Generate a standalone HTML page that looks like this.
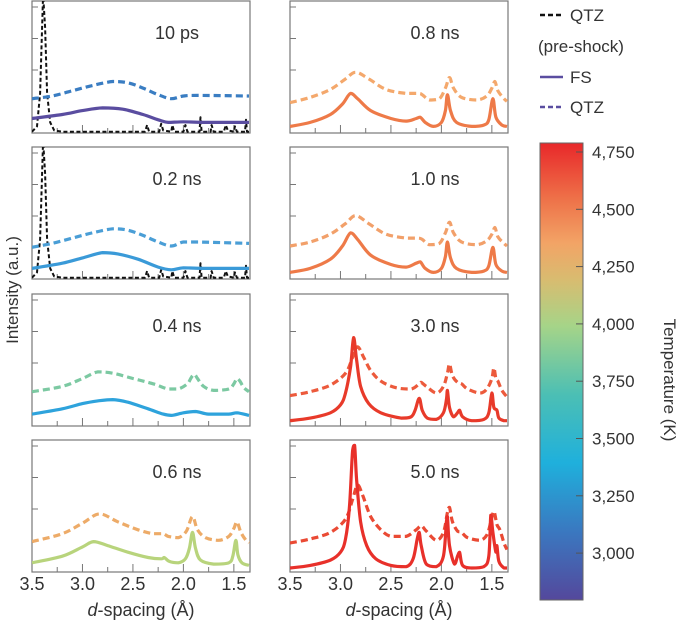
<!DOCTYPE html>
<html><head><meta charset="utf-8">
<style>
html,body{margin:0;padding:0;background:#fff;}
svg{display:block;font-family:"Liberation Sans","DejaVu Sans",sans-serif;}
</style></head>
<body>
<svg id="chart" width="685" height="630" viewBox="0 0 685 630" xmlns="http://www.w3.org/2000/svg">
<defs>
<linearGradient id="cmap" x1="0" y1="1" x2="0" y2="0">
<stop offset="0" stop-color="#54489c"/>
<stop offset="0.15" stop-color="#3a78c0"/>
<stop offset="0.3" stop-color="#1fb0dc"/>
<stop offset="0.45" stop-color="#4cbfb4"/>
<stop offset="0.6" stop-color="#a6d488"/>
<stop offset="0.7" stop-color="#d8bc70"/>
<stop offset="0.78" stop-color="#f2a466"/>
<stop offset="0.88" stop-color="#ee7048"/>
<stop offset="1" stop-color="#e8282a"/>
</linearGradient>
</defs>
<g id="panels"></g>
<g>
<line x1="540" y1="15" x2="563" y2="15" stroke="#111" stroke-width="2.5" stroke-dasharray="5,3"/>
<text x="570" y="21" font-size="17" fill="#333">QTZ</text>
<text x="538" y="52" font-size="17" fill="#333">(pre-shock)</text>
<line x1="540" y1="77" x2="563" y2="77" stroke="#5a4da0" stroke-width="2.5"/>
<text x="570" y="83" font-size="17" fill="#333">FS</text>
<line x1="540" y1="107" x2="563" y2="107" stroke="#5a4da0" stroke-width="2.5" stroke-dasharray="5,3"/>
<text x="570" y="113" font-size="17" fill="#333">QTZ</text>
</g>
<g>
<rect x="540" y="143" width="43" height="457" fill="url(#cmap)" stroke="#666" stroke-width="1"/>
<g id="cbticks"></g>
<text transform="translate(664,380) rotate(90)" text-anchor="middle" font-size="17" fill="#333">Temperature (K)</text>
</g>
<text transform="translate(18,290) rotate(-90)" text-anchor="middle" font-size="17" fill="#333">Intensity (a.u.)</text>
<text x="141" y="616" text-anchor="middle" font-size="18" fill="#333"><tspan font-style="italic">d</tspan>-spacing (Å)</text>
<text x="399" y="616" text-anchor="middle" font-size="18" fill="#333"><tspan font-style="italic">d</tspan>-spacing (Å)</text>
</svg>
<script>
const panelLabels = ["10 ps","0.2 ns","0.4 ns","0.6 ns","0.8 ns","1.0 ns","3.0 ns","5.0 ns"];
const xTickLabels = ["3.5","3.0","2.5","2.0","1.5"];
const xTickValues = [3.5,3.0,2.5,2.0,1.5];
const cbLabels = ["4,750","4,500","4,250","4,000","3,750","3,500","3,250","3,000"];
const cbValues = [4750,4500,4250,4000,3750,3500,3250,3000];
const preShock = [3.5,.01,3.45,.05,3.42,.3,3.40,.8,3.39,1.05,3.37,.8,3.35,.3,3.32,.08,3.28,.02,3.2,.01,2.38,.01,2.36,.06,2.34,.01,2.24,.01,2.22,.07,2.2,.02,2.12,.01,2.11,.06,2.09,.01,2.0,.01,1.98,.06,1.96,.01,1.84,.01,1.83,.12,1.82,.01,1.73,.01,1.72,.06,1.7,.01,1.6,.01,1.58,.06,1.56,.02,1.5,.01,1.49,.05,1.47,.01,1.39,.01,1.38,.1,1.37,.01,1.35,.01];
const fs10ps = [3.5,.11,3.2,.14,3.0,.17,2.8,.19,2.6,.18,2.4,.14,2.25,.1,2.15,.08,2.0,.085,1.8,.08,1.35,.08];
const qtz10ps = [3.5,.26,3.3,.28,3.1,.32,2.9,.36,2.7,.39,2.55,.38,2.4,.34,2.25,.29,2.12,.26,2.0,.28,1.85,.285,1.35,.28];
const fs02 = [3.5,.08,3.2,.12,3.0,.16,2.8,.2,2.65,.19,2.45,.15,2.25,.09,2.12,.07,2.0,.085,1.8,.08,1.35,.08];
const qtz02 = [3.5,.24,3.3,.27,3.1,.31,2.9,.35,2.7,.38,2.55,.37,2.4,.33,2.25,.28,2.12,.25,2.0,.28,1.85,.28,1.35,.27];
const fs04 = [3.5,.09,3.2,.13,3.0,.17,2.85,.19,2.7,.2,2.55,.18,2.35,.13,2.2,.09,2.12,.08,2.0,.1,1.88,.11,1.75,.09,1.55,.09,1.47,.1,1.35,.08];
const qtz04 = [3.5,.26,3.2,.3,3.0,.36,2.85,.41,2.7,.4,2.5,.36,2.3,.32,2.15,.28,2.05,.28,1.96,.32,1.92,.37,1.89,.39,1.86,.36,1.8,.3,1.7,.27,1.55,.28,1.5,.32,1.47,.36,1.44,.34,1.4,.29,1.35,.26];
const fs06 = [3.5,.07,3.2,.12,3.0,.19,2.89,.23,2.75,.2,2.55,.15,2.35,.11,2.22,.1,2.19,.11,2.14,.08,2.05,.07,1.98,.1,1.94,.18,1.91,.3,1.88,.18,1.83,.09,1.7,.06,1.55,.07,1.51,.12,1.48,.24,1.46,.13,1.42,.07,1.35,.05];
const qtz06 = [3.5,.23,3.2,.29,3.0,.37,2.83,.44,2.65,.38,2.45,.32,2.3,.29,2.2,.29,2.15,.27,2.05,.26,1.97,.31,1.91,.42,1.86,.32,1.78,.26,1.65,.24,1.55,.27,1.5,.33,1.47,.38,1.43,.3,1.38,.24,1.35,.22];
const fs08 = [3.5,.05,3.3,.08,3.1,.14,2.98,.22,2.9,.3,2.83,.26,2.7,.17,2.5,.11,2.35,.09,2.25,.11,2.21,.12,2.16,.08,2.08,.05,2.0,.08,1.96,.17,1.94,.29,1.91,.17,1.85,.08,1.7,.05,1.58,.06,1.53,.1,1.49,.26,1.46,.12,1.4,.06,1.35,.05];
const qtz08 = [3.5,.23,3.3,.27,3.1,.33,2.95,.41,2.85,.46,2.72,.41,2.55,.33,2.35,.3,2.23,.3,2.19,.29,2.12,.25,2.02,.26,1.96,.34,1.92,.42,1.88,.34,1.8,.27,1.65,.25,1.55,.28,1.5,.34,1.47,.39,1.44,.32,1.38,.26,1.35,.24];
const fs10 = [3.5,.05,3.3,.08,3.1,.15,2.98,.25,2.9,.35,2.83,.3,2.7,.18,2.5,.11,2.35,.09,2.25,.12,2.21,.13,2.16,.08,2.08,.05,2.0,.08,1.96,.17,1.94,.28,1.91,.16,1.85,.08,1.7,.05,1.58,.06,1.53,.1,1.49,.24,1.46,.11,1.4,.06,1.35,.05];
const qtz10 = [3.5,.25,3.3,.28,3.1,.34,2.95,.42,2.85,.48,2.72,.42,2.55,.34,2.35,.31,2.23,.31,2.19,.3,2.12,.26,2.02,.27,1.96,.35,1.92,.43,1.88,.35,1.8,.28,1.65,.26,1.55,.29,1.5,.34,1.47,.39,1.44,.32,1.38,.27,1.35,.25];
const fs30 = [3.5,.04,3.3,.06,3.1,.1,3.0,.16,2.95,.25,2.9,.45,2.87,.67,2.84,.5,2.8,.3,2.72,.17,2.6,.1,2.4,.06,2.3,.07,2.26,.12,2.22,.21,2.19,.12,2.14,.06,2.05,.05,1.98,.1,1.95,.2,1.94,.27,1.92,.14,1.88,.07,1.84,.1,1.82,.12,1.79,.07,1.7,.04,1.58,.05,1.53,.1,1.5,.25,1.48,.14,1.45,.12,1.43,.06,1.38,.04,1.35,.04];
const qtz30 = [3.5,.23,3.3,.26,3.1,.31,2.95,.4,2.88,.52,2.83,.6,2.77,.52,2.7,.42,2.6,.34,2.45,.29,2.3,.28,2.22,.32,2.2,.33,2.15,.3,2.05,.25,1.98,.3,1.94,.4,1.92,.47,1.89,.38,1.84,.33,1.8,.32,1.74,.28,1.62,.25,1.55,.28,1.5,.36,1.48,.44,1.46,.36,1.44,.34,1.4,.27,1.35,.22];
const fs50 = [3.5,.03,3.3,.05,3.1,.09,3.0,.15,2.95,.25,2.91,.5,2.88,.92,2.86,.96,2.84,.7,2.8,.38,2.74,.2,2.65,.1,2.5,.05,2.35,.04,2.28,.1,2.24,.25,2.22,.3,2.2,.2,2.15,.06,2.05,.04,1.98,.12,1.95,.38,1.94,.42,1.92,.2,1.87,.06,1.84,.12,1.82,.15,1.79,.05,1.7,.03,1.58,.04,1.53,.12,1.51,.43,1.49,.3,1.46,.15,1.45,.2,1.43,.08,1.38,.03,1.35,.03];
const qtz50 = [3.5,.22,3.3,.25,3.1,.3,2.95,.4,2.88,.55,2.83,.66,2.78,.58,2.7,.42,2.6,.32,2.5,.27,2.35,.27,2.25,.32,2.2,.35,2.15,.31,2.05,.24,1.98,.3,1.94,.45,1.92,.49,1.89,.38,1.84,.31,1.8,.3,1.74,.26,1.62,.24,1.55,.28,1.51,.38,1.48,.46,1.45,.36,1.42,.32,1.38,.22,1.35,.17];

const NS="http://www.w3.org/2000/svg";
const gp=document.getElementById('panels');
function mk(tag,attrs,parent){const e=document.createElementNS(NS,tag);for(const k in attrs)e.setAttribute(k,attrs[k]);(parent||gp).appendChild(e);return e;}
const colX=[32,290], PW=218, rowY=[1,147,294,440], PH=132;
const D0=3.5, D1=1.34;
function xs(px0,d){return px0+(D0-d)/(D0-D1)*PW;}
function ys(py0,v){return py0+PH-v*PH;}

const panels=[
 {c:0,r:0,fs:fs10ps,q:qtz10ps,fc:"#5a4da0",qc:"#3a7dc2",pre:true},
 {c:0,r:1,fs:fs02,q:qtz02,fc:"#3a9ad8",qc:"#4a9ed6",pre:true},
 {c:0,r:2,fs:fs04,q:qtz04,fc:"#2ea3dc",qc:"#7cc9a2"},
 {c:0,r:3,fs:fs06,q:qtz06,fc:"#b8d47c",qc:"#edab68"},
 {c:1,r:0,fs:fs08,q:qtz08,fc:"#ee7a48",qc:"#f4a86c"},
 {c:1,r:1,fs:fs10,q:qtz10,fc:"#ee7a48",qc:"#f2a06a"},
 {c:1,r:2,fs:fs30,q:qtz30,fc:"#e83a2a",qc:"#ec5a3c"},
 {c:1,r:3,fs:fs50,q:qtz50,fc:"#e8302a",qc:"#ea4a34"}
];
function linePath(arr,x0,y0){let s="";for(let i=0;i<arr.length;i+=2){s+=(i?"L":"M")+xs(x0,arr[i]).toFixed(1)+","+ys(y0,arr[i+1]).toFixed(1);}return s;}
function smoothPath(arr,x0,y0){
 const P=[];for(let i=0;i<arr.length;i+=2)P.push([xs(x0,arr[i]),ys(y0,arr[i+1])]);
 let s="M"+P[0][0].toFixed(1)+","+P[0][1].toFixed(1);
 for(let i=0;i<P.length-1;i++){
  const p0=P[Math.max(0,i-1)],p1=P[i],p2=P[i+1],p3=P[Math.min(P.length-1,i+2)];
  let c1x=p1[0]+(p2[0]-p0[0])/6,c1y=p1[1]+(p2[1]-p0[1])/6;
  let c2x=p2[0]-(p3[0]-p1[0])/6,c2y=p2[1]-(p3[1]-p1[1])/6;
  const lo=Math.min(p1[1],p2[1]),hi=Math.max(p1[1],p2[1]);
  c1y=Math.min(hi,Math.max(lo,c1y));c2y=Math.min(hi,Math.max(lo,c2y));
  s+="C"+c1x.toFixed(1)+","+c1y.toFixed(1)+" "+c2x.toFixed(1)+","+c2y.toFixed(1)+" "+p2[0].toFixed(1)+","+p2[1].toFixed(1);
 }
 return s;
}
panels.forEach((p,i)=>{
 const x0=colX[p.c], y0=rowY[p.r];
 const g=mk('g',{});
 
 
 const cid='clip'+i;
 const cp=mk('clipPath',{id:cid},g); mk('rect',{x:x0,y:y0,width:PW,height:PH},cp);
 const frame=mk('rect',{x:x0,y:y0,width:PW,height:PH,fill:'none',stroke:'#777','stroke-width':1.2},g);
 
 
 [6,37.5,69].forEach(o=>{const t=mk('line',{x1:x0,x2:x0+6,y1:y0+o,y2:y0+o,stroke:'#777','stroke-width':1},g);
  
  });
 for(let d=3.25;d>D1;d-=0.25){const xx=xs(x0,d);const len=(Math.abs(d*2-Math.round(d*2))<1e-6)?8:5;
  const t=mk('line',{x1:xx,x2:xx,y1:y0+PH,y2:y0+PH-len,stroke:'#777','stroke-width':1},g);
  
  }
 const cg=mk('g',{'clip-path':'url(#'+cid+')'},g);
 if(p.pre){const pl=mk('path',{d:linePath(preShock,x0,y0),fill:'none',stroke:'#111','stroke-width':2,'stroke-dasharray':'4,2.5','stroke-linejoin':'round'},cg);
  
  }
 const ql=mk('path',{d:smoothPath(p.q,x0,y0),fill:'none',stroke:p.qc,'stroke-width':3.2,'stroke-dasharray':'7,4','stroke-linejoin':'round'},cg);
 
 
 const fl=mk('path',{d:smoothPath(p.fs,x0,y0),fill:'none',stroke:p.fc,'stroke-width':3.2,'stroke-linejoin':'round'},cg);
 
 
 const lb=mk('text',{x:x0+145,y:y0+38,'text-anchor':'middle','font-size':18,fill:'#333'},g);
 lb.textContent=panelLabels[i];
 
 
 if(p.r===3){xTickValues.forEach((v,k)=>{const t=mk('text',{x:xs(x0,v),y:590,'text-anchor':'middle','font-size':18,fill:'#333'},g);
  t.textContent=xTickLabels[k];
  
  });}
});
const cbg=document.getElementById('cbticks');
const cbTop=152, cbStep=57.3;
cbValues.forEach((v,k)=>{const y=cbTop+(4750-v)/250*cbStep;
 const t=mk('line',{x1:576,x2:583,y1:y,y2:y,stroke:'#555','stroke-width':1},cbg);
 
 
 const l=mk('text',{x:592,y:y+6,'font-size':17,fill:'#333'},cbg);
 l.textContent=cbLabels[k];
 
 });
</script>
</body></html>
